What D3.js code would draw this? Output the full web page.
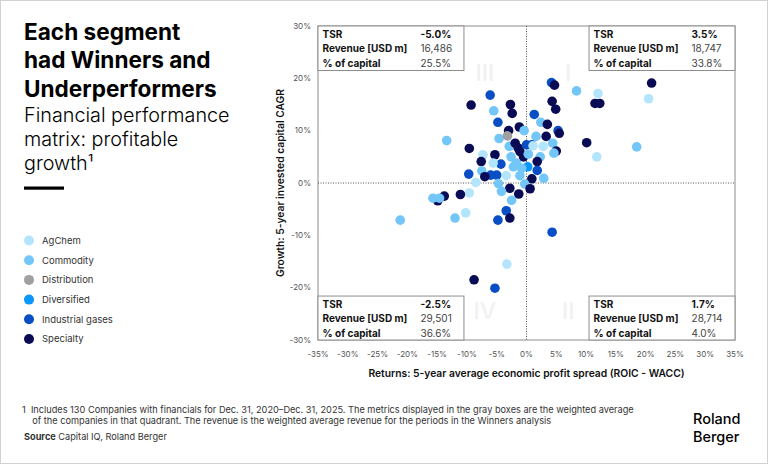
<!DOCTYPE html>
<html>
<head>
<meta charset="utf-8">
<script src="https://d3js.org/d3.v7.min.js"></script>
<title>Financial performance matrix</title>
<style>
    body { margin: 0; background: #fff; }
    svg { font-family: Inter, "Noto Sans", sans-serif; }
    .tick-label { font-size: 8px; fill: #555; }
    .box-label { font-size: 10px; font-weight: 700; fill: #111; }
    .box-value { font-size: 10px; fill: #444; }
</style>
</head>
<body>
<svg id="chart"></svg>
<script>
// segments and their legend order
const segments = ["AgChem", "Commodity", "Distribution", "Diversified", "Industrial gases", "Specialty"];

// one entry per company: returns (x, %), growth (y, %), segment
const returns = [4.2, 4.7, 21.0, 8.4, 12.0, 20.5, 11.5, 12.3, -6.1, -9.3,
    -2.7, -2.4, -5.5, 4.3, 4.9, 1.3, -4.8, 2.4, 3.5, -1.2,
    -3.0, -0.4, 5.3, 5.5, -13.4, -4.6, 1.6, 3.3, 10.1, 18.5,
    11.8, -9.6, -2.9, -1.4, -1.1, -0.5, 0.0, 0.9, 1.1, 2.8,
    4.4, 5.0, 4.6, -7.3, -5.3, 2.3, 0.3, -2.6, -7.6, -4.3,
    -5.6, -1.7, 1.8, 0.2, 1.8, -7.5, -9.7, -6.0, -5.0, -7.0,
    -3.4, -1.1, 0.9, 2.9, -8.5, -4.7, -0.3, -2.8, 0.6, -4.2,
    -1.3, -9.6, -11.1, -13.8, -14.9, -15.7, -14.6, -2.5, -21.2, -12.0,
    -10.2, -3.4, -4.8, -2.8, 4.3, -3.3, -8.8, -5.3, -0.8, -2.2,
    -1.9, -3.2];
const growth = [19.2, 18.7, 19.1, 17.6, 17.1, 16.1, 15.2, 15.2, 16.8, 14.9,
    15.0, 13.3, 13.8, 15.6, 14.1, 13.1, 11.6, 11.6, 11.2, 10.7,
    10.0, 10.0, 10.0, 9.5, 8.1, 8.5, 8.9, 8.9, 7.7, 6.9,
    5.0, 6.6, 7.0, 6.7, 6.0, 5.0, 7.3, 7.3, 7.1, 7.0,
    7.6, 6.1, 5.7, 5.4, 5.4, 5.0, 5.5, 5.0, 4.1, 3.6,
    3.8, 3.8, 4.1, 3.1, 2.4, 2.3, 1.7, 1.5, 1.5, 1.2,
    1.4, 1.4, 0.8, 0.9, 0.1, -0.1, -0.2, -1.0, -1.1, -1.6,
    -2.1, -1.9, -2.2, -2.5, -3.4, -2.9, -2.9, -3.3, -7.1, -6.7,
    -5.7, -5.3, -7.1, -6.7, -9.4, -15.5, -18.5, -20.1, 2.8, 3.1,
    7.6, 9.0];
const segmentOf = ["Industrial gases", "Specialty", "Specialty", "Commodity", "AgChem", "AgChem", "Specialty", "Specialty", "Industrial gases", "Specialty",
    "Specialty", "Specialty", "Commodity", "Specialty", "Specialty", "Industrial gases", "Industrial gases", "Commodity", "Specialty", "Specialty",
    "Specialty", "Commodity", "Industrial gases", "Specialty", "Commodity", "Commodity", "Commodity", "Specialty", "Specialty", "Commodity",
    "AgChem", "Specialty", "Commodity", "Specialty", "Specialty", "Specialty", "Industrial gases", "Industrial gases", "AgChem", "AgChem",
    "Commodity", "Specialty", "Commodity", "AgChem", "Specialty", "Commodity", "Commodity", "Commodity", "Specialty", "Industrial gases",
    "AgChem", "Commodity", "Specialty", "Diversified", "Industrial gases", "Commodity", "Industrial gases", "Industrial gases", "Industrial gases", "Specialty",
    "AgChem", "Commodity", "Specialty", "Commodity", "AgChem", "Commodity", "Commodity", "Specialty", "Specialty", "Commodity",
    "Specialty", "AgChem", "Specialty", "Specialty", "Specialty", "Commodity", "Commodity", "Commodity", "Commodity", "Commodity",
    "AgChem", "Industrial gases", "Industrial gases", "Specialty", "Industrial gases", "AgChem", "Specialty", "Industrial gases", "Commodity", "Commodity",
    "Specialty", "Distribution"];

// quadrant boxes: III (top left), I (top right), IV (bottom left), II (bottom right)
const quadrants = ["III", "I", "IV", "II"];
const tsr = ["-5.0%", "3.5%", "-2.5%", "1.7%"];
const revenue = ["16,486", "18,747", "29,501", "28,714"];
const capitalShare = ["25.5%", "33.8%", "36.6%", "4.0%"];

// axis ticks
const xTicks = [-35, -30, -25, -20, -15, -10, -5, 0, 5, 10, 15, 20, 25, 30, 35];
const yTicks = [-30, -20, -10, 0, 10, 20, 30];

const width = 768, height = 464;
const plot = {left: 318, right: 735, top: 26, bottom: 340};

const colors = d3.scaleOrdinal()
    .domain(segments)
    .range(["#b3e5fd", "#73c7f8", "#a0a0a0", "#0a96fa", "#0a4ec6", "#0a0b55"]);

const svg = d3.select("#chart")
    .attr("width", width)
    .attr("height", height);

// outer frame
svg.append("rect")
    .attr("x", 0.5).attr("y", 0.5)
    .attr("width", width - 1).attr("height", height - 1)
    .attr("fill", "#fff").attr("stroke", "#d2d2d2");

// title block
const title = ["Each segment", "had Winners and", "Underperformers"];
title.forEach((t, i) => {
    svg.append("text")
        .attr("x", 24).attr("y", 40 + i * 28.3)
        .attr("font-size", 22.6).attr("font-weight", 700).attr("fill", "#000")
        .text(t);
});
const subtitle = ["Financial performance", "matrix: profitable", "growth\u00b9"];
subtitle.forEach((t, i) => {
    svg.append("text")
        .attr("x", 24).attr("y", 122 + i * 24)
        .attr("font-size", 19.8).attr("font-weight", 300).attr("fill", "#000")
        .text(t);
});
svg.append("rect")
    .attr("x", 24).attr("y", 186.5).attr("width", 40).attr("height", 3.2)
    .attr("fill", "#000");

// legend
segments.forEach((s, i) => {
    const y = 240.5 + i * 19.7;
    svg.append("circle")
        .attr("cx", 29).attr("cy", y).attr("r", 5)
        .attr("fill", colors(s));
    svg.append("text")
        .attr("x", 42).attr("y", y).attr("dy", "0.35em")
        .attr("font-size", 9.5).attr("fill", "#333")
        .text(s);
});

// scales
const xScale = d3.scaleLinear().domain([-35, 35]).range([plot.left, plot.right]);
const yScale = d3.scaleLinear().domain([-30, 30]).range([plot.bottom, plot.top]);

const chartArea = svg.append("g");

// plot frame
chartArea.append("rect")
    .attr("x", plot.left).attr("y", plot.top)
    .attr("width", plot.right - plot.left).attr("height", plot.bottom - plot.top)
    .attr("fill", "none").attr("stroke", "#8c8c8c").attr("stroke-width", 1);

// quadrant numerals
const numeralPos = [[-7, 21], [7, 21], [-7, -24.5], [7, -24.5]];
quadrants.forEach((q, i) => {
    chartArea.append("text")
        .attr("x", xScale(numeralPos[i][0])).attr("y", yScale(numeralPos[i][1]))
        .attr("text-anchor", "middle").attr("dy", "0.35em")
        .attr("font-size", 23).attr("font-weight", 500).attr("fill", "#f1f1f1")
        .text(q);
});

// zero lines
chartArea.append("line")
    .attr("x1", xScale(0)).attr("x2", xScale(0))
    .attr("y1", plot.top).attr("y2", plot.bottom)
    .attr("stroke", "#555").attr("stroke-dasharray", "1,1.5");
chartArea.append("line")
    .attr("x1", plot.left).attr("x2", plot.right)
    .attr("y1", yScale(0)).attr("y2", yScale(0))
    .attr("stroke", "#555").attr("stroke-dasharray", "1,1.5");

// dots
returns.forEach((r, i) => {
    chartArea.append("circle")
        .attr("cx", xScale(r))
        .attr("cy", yScale(growth[i]))
        .attr("r", 4.8)
        .attr("fill", colors(segmentOf[i]));
});

// quadrant info boxes
const boxX = [[-35, -10.5], [10.5, 35], [-35, -10.5], [10.5, 35]];
const boxY = [[30, 21.5], [30, 21.5], [-21.6, -30], [-21.6, -30]];
quadrants.forEach((q, i) => {
    const x0 = xScale(boxX[i][0]), x1 = xScale(boxX[i][1]);
    const y0 = yScale(boxY[i][0]), y1 = yScale(boxY[i][1]);
    const g = chartArea.append("g");
    g.append("rect")
        .attr("x", x0).attr("y", y0)
        .attr("width", x1 - x0).attr("height", y1 - y0)
        .attr("fill", "#fff").attr("stroke", "#8c8c8c");
    const rows = [["TSR", tsr[i], true], ["Revenue [USD m]", revenue[i], false], ["% of capital", capitalShare[i], false]];
    rows.forEach((row, j) => {
        g.append("text").attr("class", "box-label")
            .attr("x", x0 + 4.5).attr("y", y0 + 11.8 + j * 14.5)
            .text(row[0]);
        g.append("text").attr("class", row[2] ? "box-label" : "box-value")
            .attr("x", x0 + 102.5).attr("y", y0 + 11.8 + j * 14.5)
            .text(row[1]);
    });
});

// axes labels
xTicks.forEach(v => {
    svg.append("text").attr("class", "tick-label")
        .attr("x", xScale(v)).attr("y", 357)
        .attr("text-anchor", "middle")
        .text(v + "%");
});
yTicks.forEach(v => {
    svg.append("text").attr("class", "tick-label")
        .attr("x", 311).attr("y", yScale(v)).attr("dy", "0.35em")
        .attr("text-anchor", "end")
        .text(v + "%");
});

svg.append("text")
    .attr("x", xScale(0)).attr("y", 377)
    .attr("text-anchor", "middle")
    .attr("font-size", 10.3).attr("font-weight", 600).attr("fill", "#111")
    .text("Returns: 5-year average economic profit spread (ROIC - WACC)");
svg.append("text")
    .attr("transform", `translate(284, ${yScale(0)}) rotate(-90)`)
    .attr("text-anchor", "middle")
    .attr("font-size", 10.3).attr("font-weight", 600).attr("fill", "#111")
    .text("Growth: 5-year invested capital CAGR");

// footnote and source
const footnote = [
    "1  Includes 130 Companies with financials for Dec. 31, 2020\u2013Dec. 31, 2025. The metrics displayed in the gray boxes are the weighted average",
    "    of the companies in that quadrant. The revenue is the weighted average revenue for the periods in the Winners analysis"
];
footnote.forEach((t, i) => {
    svg.append("text")
        .attr("x", 22).attr("y", 413 + i * 11.3)
        .attr("font-size", 9.2).attr("fill", "#333")
        .style("white-space", "pre")
        .text(t);
});
const source = svg.append("text")
    .attr("x", 24).attr("y", 440)
    .attr("font-size", 9.2).attr("fill", "#333");
source.append("tspan").attr("font-weight", 700).text("Source");
source.append("tspan").text(" Capital IQ, Roland Berger");

// logo
["Roland", "Berger"].forEach((t, i) => {
    svg.append("text")
        .attr("x", 693).attr("y", 424 + i * 18)
        .attr("font-size", 14.5).attr("font-weight", 500).attr("fill", "#000")
        .text(t);
});
</script>
</body>
</html>
